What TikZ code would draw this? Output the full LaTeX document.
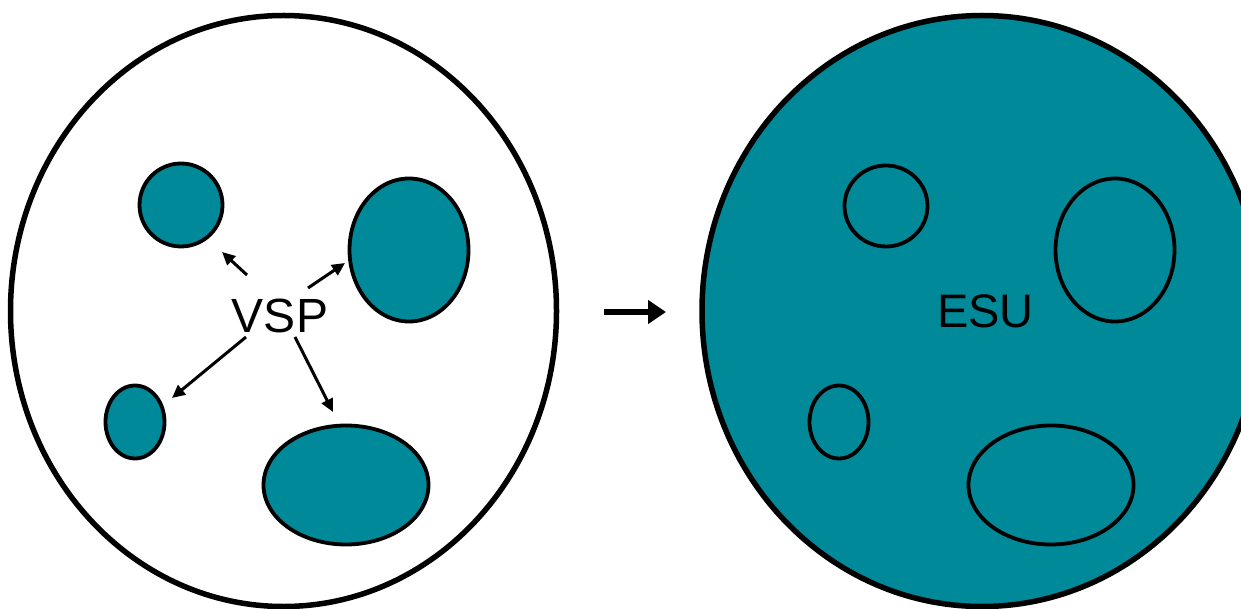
\documentclass[tikz,border=0pt]{standalone}
\usepackage{fontspec}
\setmainfont{Liberation Sans}
\usetikzlibrary{shapes.geometric,arrows.meta}
\definecolor{tealfill}{RGB}{0,137,153}
\begin{document}
\begin{tikzpicture}[x=1pt,y=-1pt,
  big/.style={ellipse, draw, line width=5.5pt, inner sep=0pt},
  blob/.style={ellipse, draw, line width=3.8pt, fill=tealfill, inner sep=0pt},
  lbl/.style={inner sep=0pt},
  ptr/.style={line width=3pt, -{Triangle[length=13pt,width=12pt]}},
  bigarrow/.style={line width=6.5pt, -{Triangle[length=18pt,width=23pt]}},
]
\useasboundingbox (0,0) rectangle (1241,609);
\clip (0,0) rectangle (1241,609);
% left cell
\node[big, fill=white, minimum width=546pt, minimum height=591pt] (L) at (283.5,311) {};
\node[blob, minimum width=83pt, minimum height=83pt] (l1) at (181,205) {};
\node[blob, minimum width=119pt, minimum height=143pt] (l2) at (409,250) {};
\node[blob, minimum width=59pt, minimum height=73pt] (l3) at (135,422) {};
\node[blob, minimum width=165pt, minimum height=119pt] (l4) at (346,485) {};
\node[lbl, font=\fontsize{48}{48}\selectfont] (vsp) at (280,315.5) {VSP};
% arrow end points
\coordinate (a1s) at (247,275); \coordinate (a1e) at (222,252);
\coordinate (a2s) at (308,288); \coordinate (a2e) at (345,263);
\coordinate (a3s) at (246,337); \coordinate (a3e) at (172,398);
\coordinate (a4s) at (295,337); \coordinate (a4e) at (333,412);
\draw[ptr] (a1s) -- (a1e);
\draw[ptr] (a2s) -- (a2e);
\draw[ptr] (a3s) -- (a3e);
\draw[ptr] (a4s) -- (a4e);
% middle arrow
\coordinate (ms) at (604,312); \coordinate (me) at (666,312);
\draw[bigarrow] (ms) -- (me);
% right cell
\node[big, fill=tealfill, minimum width=560pt, minimum height=591pt] (R) at (982,311) {};
\node[blob, minimum width=83pt, minimum height=81pt] (r1) at (886,206) {};
\node[blob, minimum width=119pt, minimum height=143pt] (r2) at (1115,250) {};
\node[blob, minimum width=59pt, minimum height=73pt] (r3) at (839,422) {};
\node[blob, minimum width=165pt, minimum height=119pt] (r4) at (1051,485) {};
\node[lbl, font=\fontsize{47}{47}\selectfont] (esu) at (985.5,311) {ESU};
\end{tikzpicture}
\end{document}
